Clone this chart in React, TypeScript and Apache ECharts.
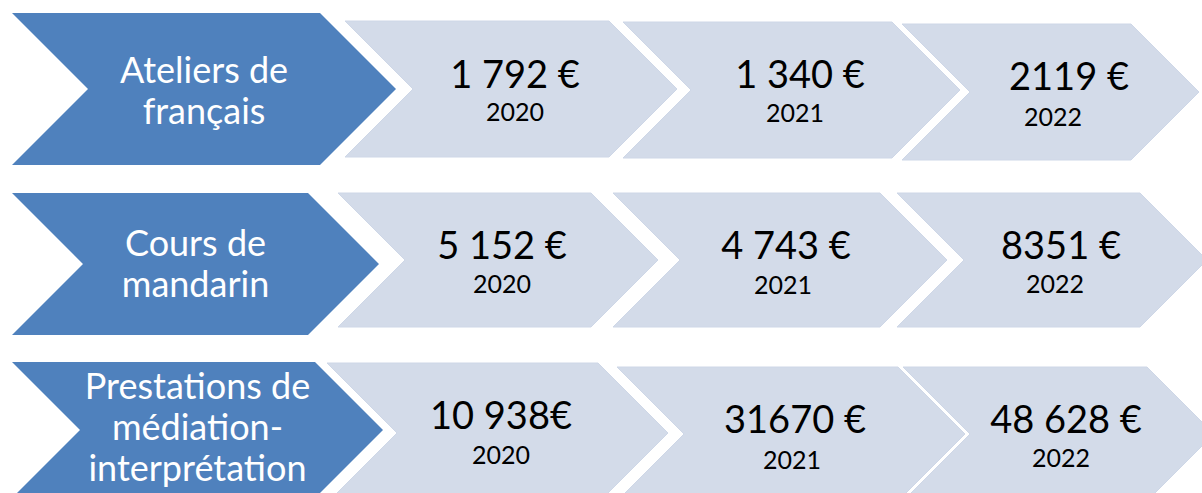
import React, { useEffect, useRef } from "react";
import * as echarts from "echarts";

// ---- Data ----
const categories = [
  "Ateliers de\nfrançais",
  "Cours de\nmandarin",
  "Prestations de\nmédiation-\ninterprétation",
];
const years = ["2020", "2021", "2022"];
const francaisValues = ["1 792 €", "1 340 €", "2119 €"];
const mandarinValues = ["5 152 €", "4 743 €", "8351 €"];
const mediationValues = ["10 938€", "31670 €", "48 628 €"];
const valuesByRow = [francaisValues, mandarinValues, mediationValues];

// ---- Layout (pixel units of the hidden value axes) ----
const headerShapes = [
  { x0: 12, tip: 396, top: 13, bottom: 165, textY: 89 },
  { x0: 12, tip: 379, top: 193, bottom: 335, textY: 262 },
  { x0: 12, tip: 383, top: 362, bottom: 498, textY: 426 },
];
const cellShapes = [
  [
    { x0: 345, tip: 677, top: 21, bottom: 157 },
    { x0: 623, tip: 960, top: 22, bottom: 158 },
    { x0: 902, tip: 1199, top: 24, bottom: 160 },
  ],
  [
    { x0: 338, tip: 658, top: 193, bottom: 327 },
    { x0: 613, tip: 947, top: 193, bottom: 327 },
    { x0: 897, tip: 1207, top: 193, bottom: 327 },
  ],
  [
    { x0: 327, tip: 668, top: 363, bottom: 503 },
    { x0: 617, tip: 965, top: 367, bottom: 501 },
    { x0: 903, tip: 1214, top: 367, bottom: 501 },
  ],
];
// [valueX, valueY, yearX, yearY]
const cellTextPos = [
  [[515, 73, 515, 111], [800, 73, 795, 112], [1069, 75, 1053, 116]],
  [[502, 244, 502, 283], [786, 244, 783, 284], [1061, 244, 1055, 283]],
  [[501, 414, 501, 454], [795, 418, 792, 459], [1066, 418, 1061, 457]],
];

const FONT = "Lato, 'Open Sans', sans-serif";
const BLUE = "#4F81BD";
const LIGHT = "#D3DBE9";

function chevronPoints(api: any, s: { x0: number; tip: number; top: number; bottom: number }) {
  const d = (s.bottom - s.top) / 2;
  const mid = (s.top + s.bottom) / 2;
  const pts = [
    [s.x0, s.top],
    [s.tip - d, s.top],
    [s.tip, mid],
    [s.tip - d, s.bottom],
    [s.x0, s.bottom],
    [s.x0 + d, mid],
  ];
  return pts.map((p) => api.coord(p));
}

export default function App() {
  const ref = useRef<HTMLDivElement>(null);

  useEffect(() => {
    document.body.style.margin = "0";
    if (!ref.current) return;
    const chart = echarts.init(ref.current, undefined, { renderer: "svg" });

    const headerData = categories.map((_, i) => [i]);
    const cellData: number[][] = [];
    valuesByRow.forEach((row, ri) => row.forEach((_, ci) => cellData.push([ci, ri])));

    chart.setOption({
      animation: false,
      grid: { left: 0, right: 0, top: 0, bottom: 0 },
      xAxis: { type: "value", min: 0, max: 1202, show: false },
      yAxis: { type: "value", min: 0, max: 493, inverse: true, show: false },
      series: [
        {
          type: "custom",
          silent: true,
          clip: false,
          data: headerData,
          renderItem: (params: any, api: any) => {
            const i = params.dataIndex;
            const s = headerShapes[i];
            const c = api.coord([(s.x0 + s.tip) / 2, s.textY]);
            return {
              type: "group",
              children: [
                {
                  type: "polygon",
                  shape: { points: chevronPoints(api, s) },
                  style: { fill: BLUE },
                },
                {
                  type: "text",
                  x: c[0],
                  y: c[1],
                  style: {
                    text: categories[i],
                    fill: "#ffffff",
                    fontSize: 36,
                    fontFamily: FONT,
                    lineHeight: 41,
                    align: "center",
                    verticalAlign: "middle",
                  },
                },
              ],
            };
          },
        },
        {
          type: "custom",
          silent: true,
          clip: false,
          data: cellData,
          renderItem: (params: any, api: any) => {
            const ci = api.value(0);
            const ri = api.value(1);
            const s = cellShapes[ri][ci];
            const t = cellTextPos[ri][ci];
            const v = api.coord([t[0], t[1]]);
            const y = api.coord([t[2], t[3]]);
            return {
              type: "group",
              children: [
                {
                  type: "polygon",
                  shape: { points: chevronPoints(api, s) },
                  style: { fill: LIGHT, stroke: "#CED7E7", lineWidth: 1 },
                },
                {
                  type: "text",
                  x: v[0],
                  y: v[1],
                  style: {
                    text: valuesByRow[ri][ci],
                    fill: "#000000",
                    fontSize: 38,
                    fontFamily: FONT,
                    align: "center",
                    verticalAlign: "middle",
                  },
                },
                {
                  type: "text",
                  x: y[0],
                  y: y[1],
                  style: {
                    text: years[ci],
                    fill: "#000000",
                    fontSize: 25,
                    fontFamily: FONT,
                    align: "center",
                    verticalAlign: "middle",
                  },
                },
              ],
            };
          },
        },
      ],
    });

    return () => chart.dispose();
  }, []);

  return <div ref={ref} style={{ width: 1202, height: 493 }} />;
}
